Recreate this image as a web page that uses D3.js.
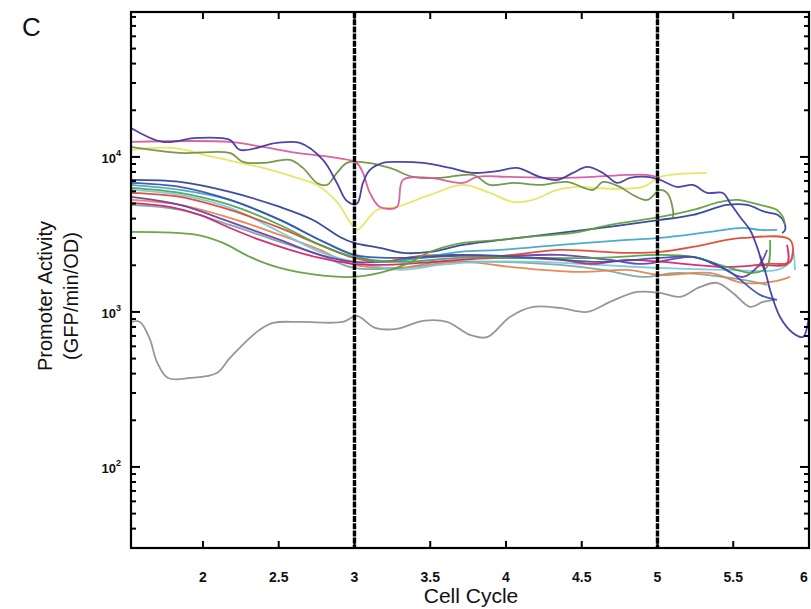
<!DOCTYPE html>
<html><head><meta charset="utf-8">
<script src="https://cdn.jsdelivr.net/npm/d3@7"></script>
<style>body{margin:0;background:#fff}svg{display:block}</style>
</head><body>
<svg id="c" width="811" height="609"></svg>
<script>
// ---------- data ----------
const xTickValues = [2, 2.5, 3, 3.5, 4, 4.5, 5, 5.5, 6];
const xTickLabels = ["2", "2.5", "3", "3.5", "4", "4.5", "5", "5.5", "6"];
const yMajorValues = [100, 1000, 10000];
const yMajorExponents = ["2", "3", "4"];
const phaseMarkers = [3, 5];

const gray = [[1.525,862],[1.584,862],[1.650,666],[1.696,476],[1.769,375],[1.914,375],[2.092,404],[2.178,505],[2.356,744],[2.462,849],[2.640,862],[2.924,862],[3.016,942],[3.135,790],[3.280,778],[3.452,875],[3.611,862],[3.762,711],[3.875,687],[4.026,928],[4.178,1078],[4.356,1062],[4.535,1000],[4.686,1160],[4.865,1346],[5.017,1326],[5.149,1252],[5.281,1450],[5.393,1540],[5.498,1326],[5.611,1078],[5.697,1160],[5.776,1195]];
const upperBlue = [[1.525,15390],[1.736,12500],[1.960,13260],[2.178,12875],[2.244,11100],[2.488,12310],[2.640,12310],[2.792,9560],[2.884,6795],[2.950,5200],[3.016,5000],[3.056,6795],[3.102,8245],[3.188,9148],[3.280,9290],[3.452,9148],[3.630,8494],[3.782,7886],[3.941,8090],[4.073,8494],[4.224,7431],[4.337,7105],[4.442,7886],[4.535,8620],[4.640,7886],[4.733,6795],[4.818,7320],[4.931,7431],[5.017,7105],[5.129,6403],[5.234,6596],[5.327,5857],[5.432,5857],[5.479,5048],[5.545,4101],[5.611,3381],[5.657,2627],[5.690,2070],[5.665,2500],[5.700,1900],[5.680,2300],[5.720,1700],[5.743,1387],[5.809,928],[5.894,732],[5.960,690],[6.0,950]];
const upperPink = [[1.525,12500],[2.178,12500],[2.396,11600],[2.620,10610],[2.884,9850],[3.016,9148],[3.056,7886],[3.102,5857],[3.168,4756],[3.280,4756],[3.320,7105],[3.498,7320],[3.716,6795],[3.809,7431],[4.026,7431],[4.356,7320],[4.574,7431],[4.799,7655],[4.931,7655],[5.017,7320]];
const yellow = [[1.525,11100],[1.802,11435],[2.066,9997],[2.396,8494],[2.620,7320],[2.752,6596],[2.884,5125],[2.970,3807],[3.016,3381],[3.148,4550],[3.280,4756],[3.498,5685],[3.716,6596],[3.894,5857],[4.046,5125],[4.178,5280],[4.337,6125],[4.488,6403],[4.574,6310],[4.904,6403],[5.017,7431],[5.327,7886]];
const olive = [[1.525,11607],[1.848,10610],[2.178,10610],[2.264,9290],[2.396,9148],[2.574,9560],[2.660,8494],[2.752,6795],[2.818,6596],[2.884,7886],[2.950,9148],[3.036,9290],[3.234,8494],[3.386,7431],[3.564,7320],[3.782,7655],[3.894,6596],[4.046,6795],[4.224,6596],[4.403,6897],[4.574,6125],[4.640,6897],[4.752,6403],[4.838,5685],[4.931,5280],[5.017,6125],[5.063,5857],[5.102,4550],[5.102,4040]];
const lowGreen = [[1.525,3282],[1.960,3139],[2.132,2788],[2.310,2264],[2.508,1922],[2.752,1733],[2.990,1682],[3.168,1785],[3.347,2040],[3.498,2438],[3.716,2788],[3.960,2914],[4.139,3047],[4.442,3234],[4.686,3641],[5.017,4101],[5.234,4550],[5.413,5125],[5.525,5280],[5.677,4900],[5.789,4550],[5.828,4101],[5.842,3641]];
const midBlue = [[1.525,7105],[1.848,6897],[2.178,5945],[2.508,4756],[2.726,3922],[2.904,3047],[2.997,2788],[3.168,2588],[3.320,2402],[3.498,2438],[3.716,2706],[4.139,3047],[4.574,3432],[5.017,3922],[5.234,4225],[5.458,4900],[5.591,4900],[5.710,4417],[5.795,4225],[5.835,3807],[5.842,3381],[5.822,3234]];
const teal = [[1.525,6596],[1.848,6125],[2.178,5280],[2.508,3922],[2.772,2914],[2.997,2332],[3.168,2102],[3.432,2230],[3.696,2438],[3.960,2512],[4.356,2706],[4.799,2914],[5.017,3002],[5.347,3282],[5.564,3483],[5.677,3381],[5.789,3381]];
const red = [[1.525,5857],[1.848,5518],[2.178,4550],[2.508,3483],[2.772,2706],[2.997,2230],[3.168,2102],[3.432,2298],[3.696,2332],[3.960,2298],[4.356,2512],[4.799,2402],[5.017,2438],[5.234,2627],[5.458,2914],[5.564,3002],[5.875,2914],[5.875,2102],[5.723,2040],[5.657,1951]];
const magenta = [[1.525,5048],[1.782,4756],[1.980,4225],[2.178,3483],[2.376,2914],[2.574,2512],[2.772,2230],[2.997,2040],[3.168,2010],[3.432,2070],[3.696,2165],[3.960,2230],[4.356,2165],[4.574,2040],[4.799,2165],[5.458,1951],[5.677,2010],[5.855,2040],[5.855,2706]];
const purple = [[1.525,5518],[1.848,4900],[2.178,3807],[2.508,2914],[2.772,2332],[2.997,2102],[3.168,2102],[3.432,2230],[3.696,2298],[3.960,2298],[4.356,2332],[4.686,2165],[4.904,2040],[5.234,2264],[5.413,1951],[5.564,1682],[5.677,2040],[5.723,2512]];
const lightBlue = [[1.525,6125],[1.848,5685],[2.178,4688],[2.508,3282],[2.772,2438],[2.997,2102],[3.300,1866],[3.564,2010],[3.828,2102],[4.224,2102],[4.620,2010],[5.017,1922],[5.458,1866],[5.789,1866],[5.875,2102],[5.894,2512],[5.908,1866]];
const orange = [[1.525,5280],[1.848,4900],[2.178,4040],[2.508,3139],[2.772,2512],[2.997,2010],[3.300,1922],[3.696,2102],[4.092,1922],[4.488,1811],[4.799,1866],[5.017,1733],[5.347,1785],[5.564,1539],[5.789,1585],[5.875,1682]];
const grayTeal = [[1.525,4900],[1.848,4550],[2.178,3641],[2.508,2829],[2.772,2332],[2.997,1922],[3.300,1922],[3.564,2102],[3.960,2102],[4.356,2010],[4.640,1866],[4.904,1682],[5.129,1785],[5.564,1609],[5.723,1494]];
const midGreen = [[1.525,6310],[1.848,5857],[2.178,4900],[2.508,3641],[2.772,2706],[2.997,2264],[3.300,2102],[3.696,2230],[4.224,2230],[4.620,2230],[5.017,2332],[5.234,2264],[5.458,1951],[5.631,1785],[5.723,1951],[5.743,2914]];
const blue2 = [[1.525,6795],[1.848,6403],[2.178,5280],[2.508,3922],[2.772,2914],[2.997,2332],[3.300,2230],[3.696,2332],[4.224,2230],[4.620,2102],[5.017,2230],[5.234,2264],[5.458,1866],[5.677,1288],[5.789,1195]];

const seriesList = [gray, grayTeal, orange, lightBlue, purple, magenta, red, teal, midGreen, blue2, midBlue, lowGreen, yellow, olive, upperPink, upperBlue];
const seriesColors = ["#8e8e8e", "#74a89c", "#e8804a", "#72c9e2", "#6a3aa6", "#d0206e", "#e0442c", "#3aa7c4", "#4fa048", "#3450b0", "#2d3c9a", "#5e9e3a", "#e4e45c", "#6d8f3e", "#d4589a", "#3e36a2"];

// ---------- layout ----------
const L = 131, R = 809, T = 12, B = 548;
const svg = d3.select("#c");
const x = d3.scaleLinear().domain([1.525, 6.0]).range([L, R]);
const y = d3.scaleLog().domain([30, 86100]).range([B, T]);

svg.append("defs").append("clipPath").attr("id", "clip")
  .append("rect").attr("x", L).attr("y", T).attr("width", R - L).attr("height", B - T);

// lines
const line = d3.line().x(d => x(d[0])).y(d => y(d[1])).curve(d3.curveCatmullRom.alpha(0.5));
const g = svg.append("g").attr("clip-path", "url(#clip)");
seriesList.forEach((s, i) => {
  g.append("path").attr("d", line(s)).attr("fill", "none")
    .attr("stroke", seriesColors[i]).attr("stroke-width", 1.8)
    .attr("stroke-linejoin", "round").attr("opacity", 0.92);
});

// phase markers
phaseMarkers.forEach(v => {
  svg.append("line").attr("x1", x(v)).attr("x2", x(v)).attr("y1", T).attr("y2", B)
    .attr("stroke", "#000").attr("stroke-width", 3.4).attr("stroke-dasharray", "6,1.2");
});

// frame
svg.append("rect").attr("x", L).attr("y", T).attr("width", R - L).attr("height", B - T)
  .attr("fill", "none").attr("stroke", "#000").attr("stroke-width", 2.2);

// x ticks (inward, bottom & top)
xTickValues.forEach((v, i) => {
  const px = x(v);
  svg.append("line").attr("x1", px).attr("x2", px).attr("y1", B).attr("y2", B - 7).attr("stroke", "#000").attr("stroke-width", 2);
  svg.append("line").attr("x1", px).attr("x2", px).attr("y1", T).attr("y2", T + 7).attr("stroke", "#000").attr("stroke-width", 2);
  svg.append("text").attr("x", Math.min(px, 804)).attr("y", 582).attr("text-anchor", "middle")
    .attr("font-family", "Liberation Sans, Arial, sans-serif").attr("font-weight", "bold")
    .attr("font-size", 14).attr("fill", "#111").text(xTickLabels[i]);
});

// y ticks (log, inward, left & right)
const minor = [];
[10, 100, 1000, 10000].forEach(d => { for (let k = 2; k <= 9; k++) minor.push(k * d); });
minor.filter(v => v >= 30 && v <= 86100).forEach(v => {
  const py = y(v);
  svg.append("line").attr("x1", L).attr("x2", L + 5).attr("y1", py).attr("y2", py).attr("stroke", "#000").attr("stroke-width", 2);
  svg.append("line").attr("x1", R).attr("x2", R - 5).attr("y1", py).attr("y2", py).attr("stroke", "#000").attr("stroke-width", 2);
});
yMajorValues.forEach((v, i) => {
  const py = y(v);
  svg.append("line").attr("x1", L).attr("x2", L + 9).attr("y1", py).attr("y2", py).attr("stroke", "#000").attr("stroke-width", 2);
  svg.append("line").attr("x1", R).attr("x2", R - 9).attr("y1", py).attr("y2", py).attr("stroke", "#000").attr("stroke-width", 2);
  const t = svg.append("text").attr("x", 121).attr("y", py + 6).attr("text-anchor", "end")
    .attr("font-family", "Liberation Sans, Arial, sans-serif").attr("font-weight", "bold")
    .attr("font-size", 13).attr("fill", "#111");
  t.append("tspan").text("10");
  t.append("tspan").attr("dy", -7).attr("font-size", 9).text(yMajorExponents[i]);
});

// axis titles
svg.append("text").attr("x", 471).attr("y", 603).attr("text-anchor", "middle")
  .attr("font-family", "Liberation Sans, Arial, sans-serif").attr("font-size", 21).attr("fill", "#111").text("Cell Cycle");
svg.append("text").attr("transform", "translate(52,296) rotate(-90)").attr("text-anchor", "middle")
  .attr("font-family", "Liberation Sans, Arial, sans-serif").attr("font-size", 20).attr("fill", "#111").text("Promoter Activity");
svg.append("text").attr("transform", "translate(78,296) rotate(-90)").attr("text-anchor", "middle")
  .attr("font-family", "Liberation Sans, Arial, sans-serif").attr("font-size", 20).attr("fill", "#111").text("(GFP/min/OD)");
svg.append("text").attr("x", 22).attr("y", 36)
  .attr("font-family", "Liberation Sans, Arial, sans-serif").attr("font-size", 26).attr("fill", "#111").text("C");
</script>
</body></html>
